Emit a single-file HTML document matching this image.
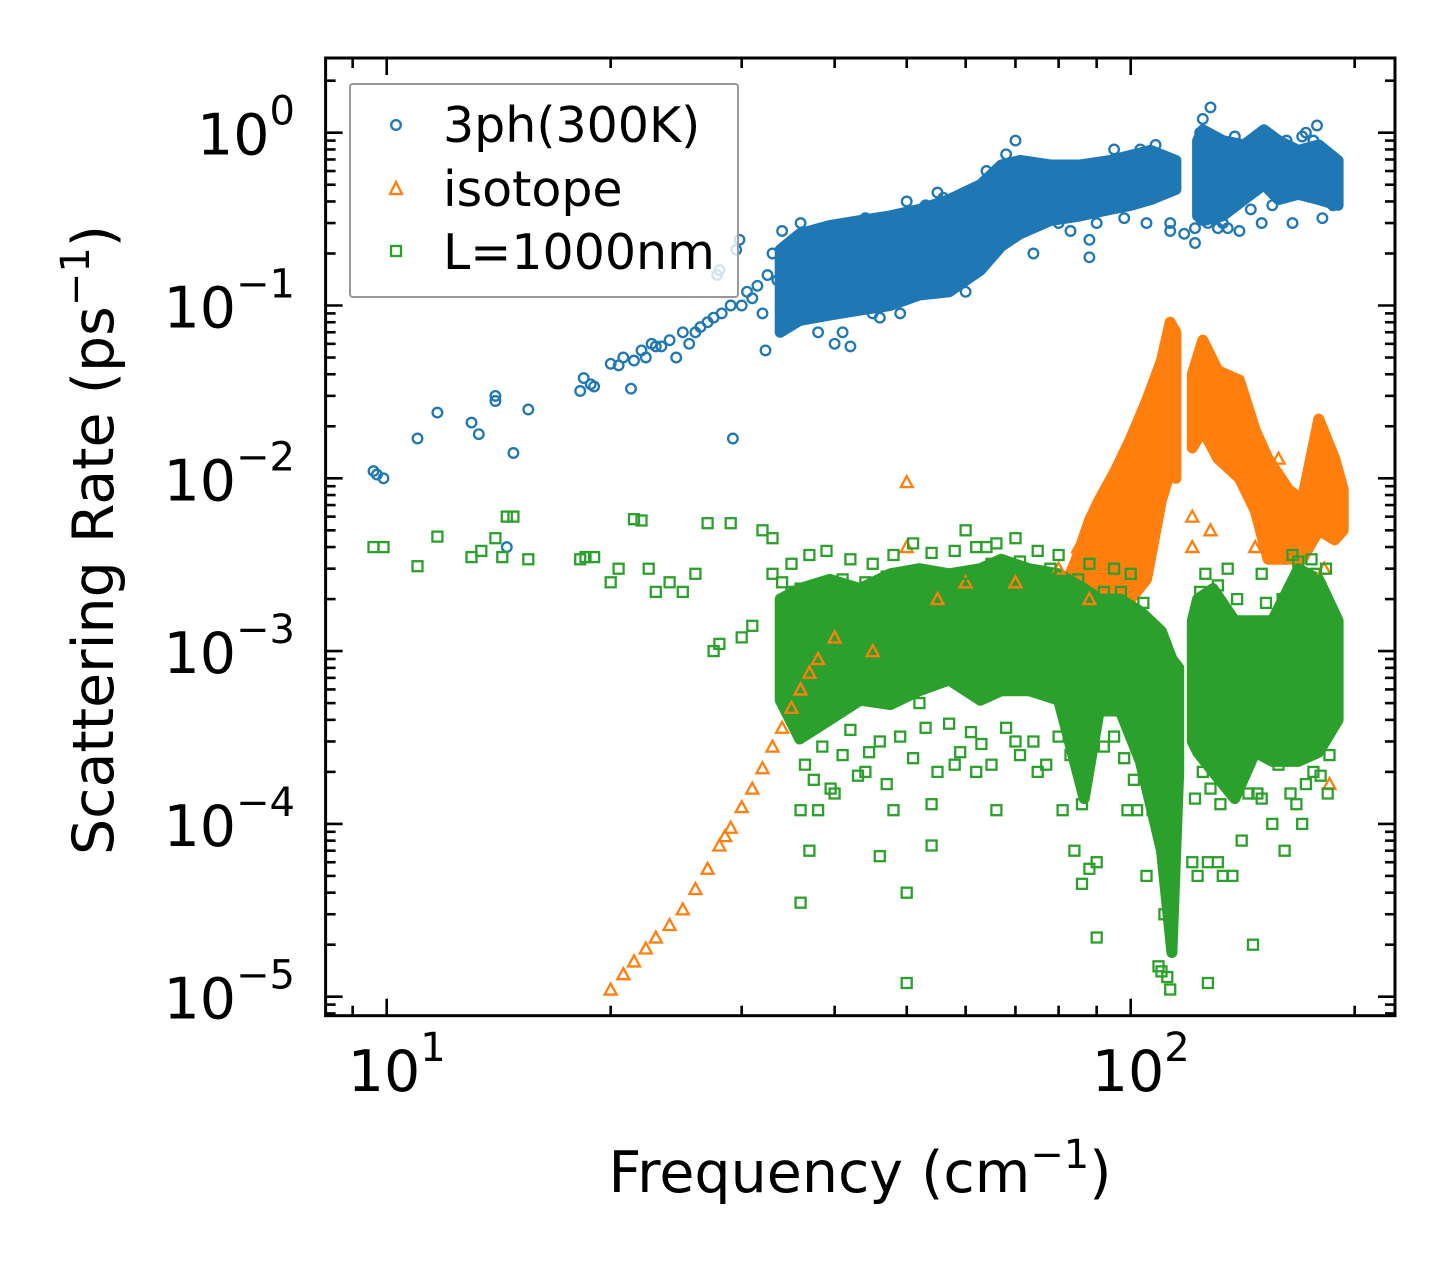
<!DOCTYPE html>
<html><head><meta charset="utf-8"><style>
html,body{margin:0;padding:0;background:#fff;}
svg{display:block;font-family:"DejaVu Sans","Liberation Sans",sans-serif;}
</style></head><body>
<svg id="chart" width="1455" height="1265" viewBox="0 0 1455 1265" xmlns="http://www.w3.org/2000/svg">
<rect width="1455" height="1265" fill="#fff"/>
<defs><clipPath id="plotclip"><rect x="326" y="58" width="1069" height="958"/></clipPath></defs>
<g id="bands" clip-path="url(#plotclip)"></g>
<g id="marks" clip-path="url(#plotclip)"></g>
<g id="axes"></g>
<g id="legend">
 <rect x="350" y="84" width="388" height="213" rx="3" fill="#fff" fill-opacity="0.8" stroke="#999" stroke-width="2"/>
 <g>
  <circle cx="396" cy="125" r="4.8" fill="none" stroke="#1f77b4" stroke-width="2.3"/>
  <text x="443" y="142" font-size="49">3ph(300K)</text>
 </g>
 <g>
  <path d="M396,182 L402,194 L390,194 Z" fill="none" stroke="#ff7f0e" stroke-width="2.3"/>
  <text x="443" y="206" font-size="49">isotope</text>
 </g>
 <g>
  <rect x="391" y="246" width="10" height="10" fill="none" stroke="#2ca02c" stroke-width="2.3"/>
  <text x="443" y="269" font-size="49">L=1000nm</text>
 </g>
</g>
<text x="860" y="1192" font-size="57" text-anchor="middle">Frequency (cm<tspan font-size="40" dy="-24">−1</tspan><tspan dy="24">)</tspan></text>
<text transform="translate(113,540) rotate(-90)" font-size="57" text-anchor="middle">Scattering Rate (ps<tspan font-size="40" dy="-24">−1</tspan><tspan dy="24">)</tspan></text>
</svg>
<script>
// ---- data ----
const blueF = [9.6,9.7,9.9,11,11.7,13,13.3,14,14,14.5,14.8,15.5,18.2,18.4,18.8,19,20,20.5,20.8,21.3,21.5,22,22.3,22.7,23,23.4,24,24.5,25,25.5,26,26.4,27,27.5,27.8,28,28.2,29,29.2,29.5,29.8,30,30.5,31,31.5,32,32.3,32.5,33,33.5,34,34.5,35,42,47,88,88,113,113,122,122,131,140,178,128,176,172,36,38,40,45,50,55,60,70,80,95,105,125,135,150,165,185,37,39,41,44,46,49,53,56,59,64,68,74,83,90,98,103,108,118,124,127,133,138,145,155,162,170,181,187];
const blueR = [0.011,0.0105,0.010,0.017,0.024,0.021,0.018,0.03,0.028,0.004,0.014,0.025,0.032,0.038,0.035,0.034,0.046,0.045,0.05,0.033,0.048,0.055,0.05,0.06,0.058,0.058,0.063,0.05,0.07,0.06,0.07,0.075,0.08,0.085,0.15,0.16,0.09,0.1,0.017,0.21,0.24,0.1,0.12,0.11,0.13,0.09,0.055,0.15,0.2,0.14,0.27,0.19,0.2,0.058,0.14,0.19,0.24,0.27,0.3,0.23,0.28,0.28,0.27,1.1,1.4,0.9,1.0,0.3,0.07,0.06,0.09,0.4,0.45,0.12,0.9,0.3,0.8,0.3,1.2,0.28,0.3,0.3,0.6,0.25,0.27,0.07,0.32,0.085,0.09,0.38,0.42,0.15,0.6,0.75,0.2,0.27,0.3,0.32,0.8,0.85,0.26,1.0,0.3,0.3,0.95,0.36,0.38,0.9,0.95,0.32,0.38];
const blueBandF  = [33.8,35.9,39.4,43.3,47.5,52,57,62.8,67,71,78,85.5,93.9,100,106.4,115,null,123,125,133,142,151,158,168,179,190];
const blueBandLo = [0.07,0.082,0.088,0.094,0.10,0.115,0.12,0.16,0.22,0.26,0.31,0.33,0.36,0.38,0.41,0.47,null,0.33,0.31,0.33,0.41,0.5,0.41,0.44,0.41,0.38];
const blueBandHi = [0.21,0.26,0.29,0.31,0.33,0.36,0.41,0.5,0.65,0.69,0.65,0.65,0.69,0.74,0.79,0.69,null,0.9,1.04,0.9,0.85,1.04,0.9,0.79,0.85,0.69];

const orangeF = [20,20.8,21.5,22.3,23,24,25,26,27,28,28.5,29,30,31,32,33,34,35,36,37,38,40,45,50,50,55,60,70,80,85,121,121,128,147,158,182,185,88,98,124,130,160];
const orangeR = [1.1e-5,1.35e-5,1.6e-5,1.9e-5,2.2e-5,2.6e-5,3.2e-5,4.2e-5,5.5e-5,7.5e-5,8.5e-5,9.5e-5,1.25e-4,1.6e-4,2.1e-4,2.8e-4,3.6e-4,4.7e-4,6e-4,7.5e-4,9e-4,1.2e-3,1e-3,4e-3,9.5e-3,2e-3,2.5e-3,2.5e-3,3e-3,4e-3,6e-3,4e-3,5e-3,4e-3,1.3e-2,3e-3,1.7e-4,2e-3,3e-3,5.5e-2,2e-2,8e-3];
const orangeBandF  = [82,84.5,88,90.7,95.3,100,105,110,113,115,null,121,125,131,140,147,153,163,170,179,188,193];
const orangeBandLo = [1.5e-3,1.2e-3,1.2e-3,1.5e-3,1.8e-3,2e-3,2.6e-3,7.5e-3,1.1e-2,1e-2,null,1.5e-2,1.9e-2,1.3e-2,1e-2,6.5e-3,3.4e-3,3.4e-3,3.4e-3,5e-3,4.4e-3,5e-3];
const orangeBandHi = [2.5e-3,3.4e-3,5.7e-3,7.5e-3,1.1e-2,1.7e-2,2.8e-2,4.8e-2,8e-2,7e-2,null,4e-2,6.3e-2,4.2e-2,3.7e-2,1.9e-2,1.3e-2,8.6e-3,7.5e-3,2.2e-2,1.3e-2,8.6e-3];

const greenF = [9.6,9.9,11,11.7,13,13.4,14,14.3,14.5,14.8,15.5,18.2,18.5,19,20,20.5,21.5,22,22.5,23,24,25,26,27,27.5,28,29,30,31,32,33,36,36,37,38,46,50,50,54,54,58,66,84,86,88,90,90,105,109,110,111,112,113,113,127,127,131,137,146,161,167,40,44,62,70,75,81,99,102,121,123,133,141,155,170,176,185,60,64,48,52,148,178,
  36.5,37.5,38.5,39.5,41,42,43,44.5,46,47,49,51,53,55,57,59,61,63,65,68,71,74,77,80,83,86,89,92,95,98,101,104,107,122,125,128,132,136,140,144,150,158,164,172,180,184,
  35,37,39,42,45,48,51,54,58,62,66,70,75,80,88,95,100,126,135,150,165,175,183,
  33,34,35,36,38,41,44,47,52,56,60,65,71,78,85,92,97,104,124,131,139,152,160,168,177];
const greenR = [4e-3,4e-3,3.1e-3,4.6e-3,3.5e-3,3.8e-3,4.5e-3,3.5e-3,6e-3,6e-3,3.4e-3,3.4e-3,3.5e-3,3.5e-3,2.5e-3,3e-3,5.8e-3,5.7e-3,3e-3,2.2e-3,2.5e-3,2.2e-3,2.8e-3,5.5e-3,1e-3,1.1e-3,5.5e-3,1.2e-3,1.4e-3,5e-3,4.5e-3,1.2e-4,3.5e-5,7e-5,1.2e-4,6.5e-5,1.2e-5,4e-5,1.3e-4,7.5e-5,2.2e-4,1.2e-4,7e-5,4.5e-5,5.5e-5,6e-5,2.2e-5,5e-5,1.5e-5,1.4e-5,3e-5,1.3e-5,1.1e-5,5e-5,6e-5,1.2e-5,6e-5,5e-5,2e-5,7e-5,1.3e-4,1.5e-4,2e-4,2e-4,3e-4,2e-4,1.2e-4,1.2e-4,1.2e-4,6e-5,5e-5,5e-5,8e-5,1e-4,1e-4,2e-4,2.5e-4,5e-3,4e-3,1.2e-4,5e-4,1.5e-4,3e-4,
  2.2e-4,1.8e-4,2.8e-4,1.6e-4,2.5e-4,3.5e-4,1.9e-4,2.6e-4,3e-4,1.7e-4,3.2e-4,2.4e-4,3.6e-4,2e-4,3.8e-4,2.6e-4,3.4e-4,2.9e-4,2.2e-4,3.6e-4,2.5e-4,3e-4,2.2e-4,3.2e-4,2.5e-4,1.3e-4,3e-4,2.8e-4,3.2e-4,2.4e-4,1.8e-4,2.5e-4,1.2e-4,1.4e-4,2e-4,1.6e-4,1.3e-4,2.4e-4,1.8e-4,1.5e-4,1.4e-4,2.2e-4,1.5e-4,1.7e-4,1.9e-4,1.5e-4,
  3.2e-3,3.6e-3,3.8e-3,3.4e-3,3.2e-3,3.6e-3,4.2e-3,3.7e-3,3.8e-3,4e-3,4.2e-3,4.5e-3,3.8e-3,3.6e-3,3.2e-3,3e-3,2.8e-3,2.8e-3,3e-3,2.8e-3,3.6e-3,3.4e-3,3e-3,
  2.8e-3,2.5e-3,2.2e-3,2.3e-3,2e-3,2.6e-3,2.5e-3,2.7e-3,2.6e-3,2.7e-3,2.8e-3,3.2e-3,3.3e-3,3e-3,2.6e-3,2.2e-3,2.2e-3,1.9e-3,2.2e-3,2.4e-3,2e-3,1.9e-3,2e-3,3.3e-3,2.8e-3];
const greenBandF  = [33.8,35.9,39.4,43.3,47.5,52,57,62.8,67,73,80,86.6,90.7,96.8,103,110,113.6,116,null,121,123,129,138,147,155,168,179,190];
const greenBandLo = [5.2e-4,3.1e-4,4e-4,5.2e-4,4.9e-4,5.9e-4,6.8e-4,5.2e-4,5.9e-4,5.9e-4,5.2e-4,1.4e-4,4.5e-4,4.5e-4,2.3e-4,7e-5,1.8e-5,2e-4,null,3e-4,2.6e-4,2e-4,1.4e-4,2.6e-4,2.3e-4,2.3e-4,2.6e-4,4e-4];
const greenBandHi = [2e-3,2.3e-3,2.6e-3,2.3e-3,2.8e-3,3e-3,2.8e-3,3e-3,3.4e-3,3e-3,2.8e-3,2.3e-3,2e-3,2e-3,1.7e-3,1.3e-3,9e-4,8e-4,null,1.5e-3,2e-3,2.3e-3,1.5e-3,1.5e-3,1.5e-3,3e-3,2.6e-3,1.5e-3];

const xTickVals = [10,100];
const xTickLabels = ["1","2"];
const yTickVals = [1,0.1,0.01,0.001,0.0001,0.00001];
const yTickLabels = ["0","−1","−2","−3","−4","−5"];

// ---- axis functions ----
const X0 = 386.7, XD = 744, Y0 = 132.7, YD = 172.8;
function xs(f){ return X0 + XD*(Math.log10(f)-1); }
function ys(v){ return Y0 - YD*Math.log10(v); }
const NS = "http://www.w3.org/2000/svg";
function mk(tag, attrs, parent){ const e=document.createElementNS(NS,tag); for(const k in attrs) e.setAttribute(k,attrs[k]); parent.appendChild(e); return e; }

const bands = document.getElementById('bands');
const marks = document.getElementById('marks');
const axes = document.getElementById('axes');

function drawBand(F, Lo, Hi, color, name){
  let seg = [];
  const segs = [];
  for(let i=0;i<F.length;i++){
    if(F[i]===null){ if(seg.length) segs.push(seg); seg=[]; continue; }
    seg.push(i);
  }
  if(seg.length) segs.push(seg);
  segs.forEach(s=>{
    let d = "";
    s.forEach((i,k)=>{ d += (k?"L":"M") + xs(F[i]).toFixed(1) + "," + ys(Hi[i]).toFixed(1); });
    for(let k=s.length-1;k>=0;k--){ const i=s[k]; d += "L" + xs(F[i]).toFixed(1) + "," + ys(Lo[i]).toFixed(1); }
    d += "Z";
    const p = mk('path',{d:d,fill:color,stroke:color,'stroke-width':11,'stroke-linejoin':'round'},bands);
    
    
  });
}

function drawCircles(F,R,color,name){
  for(let i=0;i<F.length;i++){
    const c = mk('circle',{cx:xs(F[i]).toFixed(1),cy:ys(R[i]).toFixed(1),r:4.8,fill:'none',stroke:color,'stroke-width':2.3},marks);
    
    
  }
}
function drawTris(F,R,color,name){
  for(let i=0;i<F.length;i++){
    const x=xs(F[i]), y=ys(R[i]);
    const p = mk('path',{d:`M${x},${y-6}L${x+6},${y+5}L${x-6},${y+5}Z`,fill:'none',stroke:color,'stroke-width':2.3},marks);
    
    
  }
}
function drawSquares(F,R,color,name){
  for(let i=0;i<F.length;i++){
    const x=xs(F[i]), y=ys(R[i]);
    const s = mk('rect',{x:(x-5).toFixed(1),y:(y-5).toFixed(1),width:10,height:10,fill:'none',stroke:color,'stroke-width':2.3},marks);
    
    
  }
}

drawBand(blueBandF, blueBandLo, blueBandHi, '#1f77b4', '3ph-dense-cloud');
drawCircles(blueF, blueR, '#1f77b4', '3ph-point');
drawBand(orangeBandF, orangeBandLo, orangeBandHi, '#ff7f0e', 'isotope-dense-cloud');
drawTris(orangeF, orangeR, '#ff7f0e', 'isotope-point');
drawBand(greenBandF, greenBandLo, greenBandHi, '#2ca02c', 'boundary-dense-cloud');
drawSquares(greenF, greenR, '#2ca02c', 'boundary-point');

// ---- axes ----
const L=325.6, R=1395, T=58, B=1015.7;
const frame = mk('rect',{x:L,y:T,width:R-L,height:B-T,fill:'none',stroke:'#000','stroke-width':3},axes);



function tick(x1,y1,x2,y2,name){
  const t = mk('line',{x1:x1,y1:y1,x2:x2,y2:y2,stroke:'#000','stroke-width':2.6},axes);
  
  
}
for(let e=0;e<=2;e++){
  for(let m=1;m<=9;m++){
    const f = m*Math.pow(10,e);
    const x = xs(f);
    if(x<L+1||x>R-1) continue;
    const len = m===1?17:10;
    tick(x,B,x,B-len,'x-tick');
    tick(x,T,x,T+len,'x-tick-top');
  }
}
for(let e=-6;e<=1;e++){
  for(let m=1;m<=9;m++){
    const v = m*Math.pow(10,e);
    const y = ys(v);
    if(y<T+1||y>B-1) continue;
    const len = m===1?17:10;
    tick(L,y,L+len,y,'y-tick');
    tick(R,y,R-len,y,'y-tick-right');
  }
}
xTickVals.forEach((v,i)=>{
  const t = mk('text',{x:xs(v)+10,y:1091,'font-size':57,'text-anchor':'middle'},axes);
  
  
  t.innerHTML = '10<tspan font-size="40" dy="-30">'+xTickLabels[i]+'</tspan>';
});
yTickVals.forEach((v,i)=>{
  const t = mk('text',{x:295,y:ys(v)+22,'font-size':57,'text-anchor':'end'},axes);
  
  
  t.innerHTML = '10<tspan font-size="40" dy="-30">'+yTickLabels[i]+'</tspan>';
});
</script>
</body></html>
